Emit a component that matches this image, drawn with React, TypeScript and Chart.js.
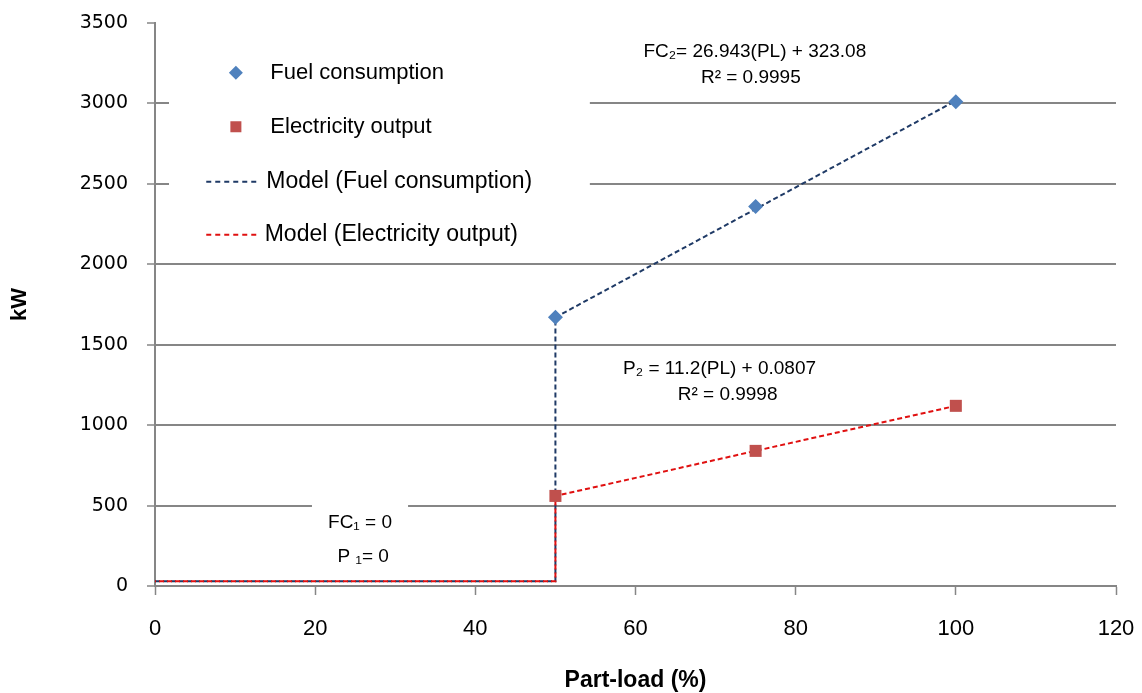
import React, { useEffect, useRef } from "react";
import { Chart, registerables } from "chart.js";

Chart.register(...registerables);

// ---- Data ----
const measuredLoads = [50, 75, 100];
const fuelConsumption = [1670, 2360, 3010];
const electricityOutput = [560, 840, 1120];

const modelLoads = [0, 50, 50, 100];
const modelFuel = [30, 30, 1670, 3017];
const modelElectricity = [30, 30, 560, 1120];

const xTickValues = [0, 20, 40, 60, 80, 100, 120];
const yTickValues = [0, 500, 1000, 1500, 2000, 2500, 3000, 3500];

const seriesNames = [
  "Fuel consumption",
  "Electricity output",
  "Model (Fuel consumption)",
  "Model (Electricity output)",
];

const equationFuel = ["FC\u2082= 26.943(PL) + 323.08", "R\u00b2 = 0.9995"];
const equationElec = ["P\u2082 = 11.2(PL) + 0.0807", "R\u00b2 = 0.9998"];
const equationLow = ["FC\u2081 = 0", "P \u2081= 0"];

// ---- Styles ----
const FUEL_COLOR = "#4F81BD";
const ELEC_COLOR = "#C0504D";
const MODEL_FUEL_COLOR = "#1F3A66";
const MODEL_ELEC_COLOR = "#E01010";
const GRID_COLOR = "#868686";
const FONT = "'Liberation Sans', Arial, sans-serif";

const toPts = (xs: number[], ys: number[]) => xs.map((x, i) => ({ x, y: ys[i] }));

const annotationPlugin = {
  id: "annotations",
  beforeDatasetsDraw(chart: any) {
    const { ctx, scales } = chart;
    const xs = scales.x;
    const ys = scales.y;
    const px = (v: number) => xs.getPixelForValue(v);
    const py = (v: number) => ys.getPixelForValue(v);
    ctx.save();

    // white boxes hiding gridlines
    ctx.fillStyle = "#ffffff";
    const boxes = [
      { x0: 1.75, x1: 54.3, y0: 2090, y1: 3400 },
      { x0: 19.6, x1: 31.6, y0: 100, y1: 600 },
    ];
    for (const b of boxes) {
      ctx.fillRect(px(b.x0), py(b.y1), px(b.x1) - px(b.x0), py(b.y0) - py(b.y1));
    }

    ctx.textBaseline = "middle";

    // legend
    const legendRows = [3190, 2855, 2513, 2183];
    const markerX = px(10.1);
    ctx.fillStyle = FUEL_COLOR;
    ctx.beginPath();
    const my0 = py(legendRows[0]);
    ctx.moveTo(markerX, my0 - 7);
    ctx.lineTo(markerX + 7, my0);
    ctx.lineTo(markerX, my0 + 7);
    ctx.lineTo(markerX - 7, my0);
    ctx.closePath();
    ctx.fill();
    ctx.fillStyle = ELEC_COLOR;
    const my1 = py(legendRows[1]);
    ctx.fillRect(markerX - 5.5, my1 - 5.5, 11, 11);
    ctx.lineWidth = 2;
    ctx.setLineDash([5, 4]);
    ctx.strokeStyle = MODEL_FUEL_COLOR;
    ctx.beginPath();
    ctx.moveTo(px(6.4), py(legendRows[2]));
    ctx.lineTo(px(13.0), py(legendRows[2]));
    ctx.stroke();
    ctx.strokeStyle = MODEL_ELEC_COLOR;
    ctx.beginPath();
    ctx.moveTo(px(6.4), py(legendRows[3]));
    ctx.lineTo(px(13.0), py(legendRows[3]));
    ctx.stroke();
    ctx.setLineDash([]);

    ctx.fillStyle = "#000";
    ctx.textAlign = "left";
    ctx.font = `22px ${FONT}`;
    ctx.fillText(seriesNames[0], px(14.4), py(legendRows[0]));
    ctx.fillText(seriesNames[1], px(14.4), py(legendRows[1]));
    ctx.font = `23px ${FONT}`;
    ctx.fillText(seriesNames[2], px(13.9), py(legendRows[2]));
    ctx.fillText(seriesNames[3], px(13.7), py(legendRows[3]));

    // equations
    ctx.textAlign = "center";
    ctx.font = `19px ${FONT}`;
    ctx.fillText(equationFuel[0], px(74.9), py(3321));
    ctx.fillText(equationFuel[1], px(74.4), py(3159));
    ctx.fillText(equationElec[0], px(70.5), py(1350));
    ctx.fillText(equationElec[1], px(71.5), py(1188));
    ctx.fillText(equationLow[0], px(25.6), py(392));
    ctx.fillText(equationLow[1], px(26.0), py(180));

    ctx.restore();
  },
};

export default function App() {
  const canvasRef = useRef<HTMLCanvasElement | null>(null);

  useEffect(() => {
    document.body.style.margin = "0";
    const canvas = canvasRef.current;
    if (!canvas) return;
    const chart = new Chart(canvas, {
      type: "scatter",
      data: {
        datasets: [
          {
            label: seriesNames[0],
            data: toPts(measuredLoads, fuelConsumption),
            showLine: false,
            pointStyle: "rectRot",
            pointRadius: 7.5,
            backgroundColor: FUEL_COLOR,
            borderColor: FUEL_COLOR,
            borderWidth: 0,
            order: 0,
          },
          {
            label: seriesNames[1],
            data: toPts(measuredLoads, electricityOutput),
            showLine: false,
            pointStyle: "rect",
            pointRadius: 8.5,
            backgroundColor: ELEC_COLOR,
            borderColor: ELEC_COLOR,
            borderWidth: 0,
            order: 1,
          },
          {
            label: seriesNames[2],
            data: toPts(modelLoads, modelFuel),
            showLine: true,
            pointRadius: 0,
            borderColor: MODEL_FUEL_COLOR,
            borderWidth: 2,
            borderDash: [5, 3],
            tension: 0,
            order: 3,
          },
          {
            label: seriesNames[3],
            data: toPts(modelLoads, modelElectricity),
            showLine: true,
            pointRadius: 0,
            borderColor: MODEL_ELEC_COLOR,
            borderWidth: 2,
            borderDash: [5, 3],
            borderDashOffset: 4,
            tension: 0,
            order: 2,
          },
        ],
      },
      options: {
        animation: false,
        responsive: true,
        maintainAspectRatio: false,
        layout: { padding: { top: 23, right: 26, left: 0, bottom: 0 } },
        plugins: {
          legend: { display: false },
          tooltip: { enabled: false },
        },
        scales: {
          x: {
            type: "linear",
            min: 0,
            max: 120,
            afterBuildTicks: (s: any) => {
              s.ticks = xTickValues.map((v) => ({ value: v }));
            },
            afterFit: (s: any) => {
              s.height = 107;
              s.paddingLeft = 0;
              s.paddingRight = 0;
            },
            grid: {
              drawOnChartArea: false,
              drawTicks: true,
              tickLength: 9,
              tickColor: GRID_COLOR,
              tickWidth: 1.5,
            },
            border: { color: GRID_COLOR, width: 2 },
            ticks: {
              font: { family: FONT, size: 22 },
              color: "#000",
              padding: 21,
              maxRotation: 0,
              callback: (v: any) => String(v),
            },
            title: {
              display: true,
              text: "Part-load (%)",
              font: { family: FONT, size: 23, weight: "bold", lineHeight: 1 },
              color: "#000",
              padding: { top: 0, bottom: 1 },
            },
          },
          y: {
            type: "linear",
            min: 0,
            max: 3500,
            afterBuildTicks: (s: any) => {
              s.ticks = yTickValues.map((v) => ({ value: v }));
            },
            afterFit: (s: any) => {
              s.width = 155;
              s.paddingTop = 0;
              s.paddingBottom = 0;
            },
            grid: {
              color: (c: any) =>
                c.tick && (c.tick.value === 3500 || c.tick.value === 0) ? "rgba(0,0,0,0)" : GRID_COLOR,
              lineWidth: 2,
              tickLength: 8,
              tickColor: GRID_COLOR,
              tickWidth: 1.5,
            },
            border: { color: GRID_COLOR, width: 2 },
            ticks: {
              font: { family: "'DejaVu Sans', sans-serif", size: 19 },
              color: "#000",
              padding: 19,
              callback: (v: any) => String(v),
            },
            title: {
              display: true,
              text: "kW",
              font: { family: FONT, size: 22, weight: "bold" },
              color: "#000",
              padding: { top: 7, bottom: 0 },
            },
          },
        },
      },
      plugins: [annotationPlugin],
    } as any);
    return () => chart.destroy();
  }, []);

  return (
    <div style={{ position: "relative", width: 1142, height: 693 }}>
      <canvas ref={canvasRef} />
    </div>
  );
}
